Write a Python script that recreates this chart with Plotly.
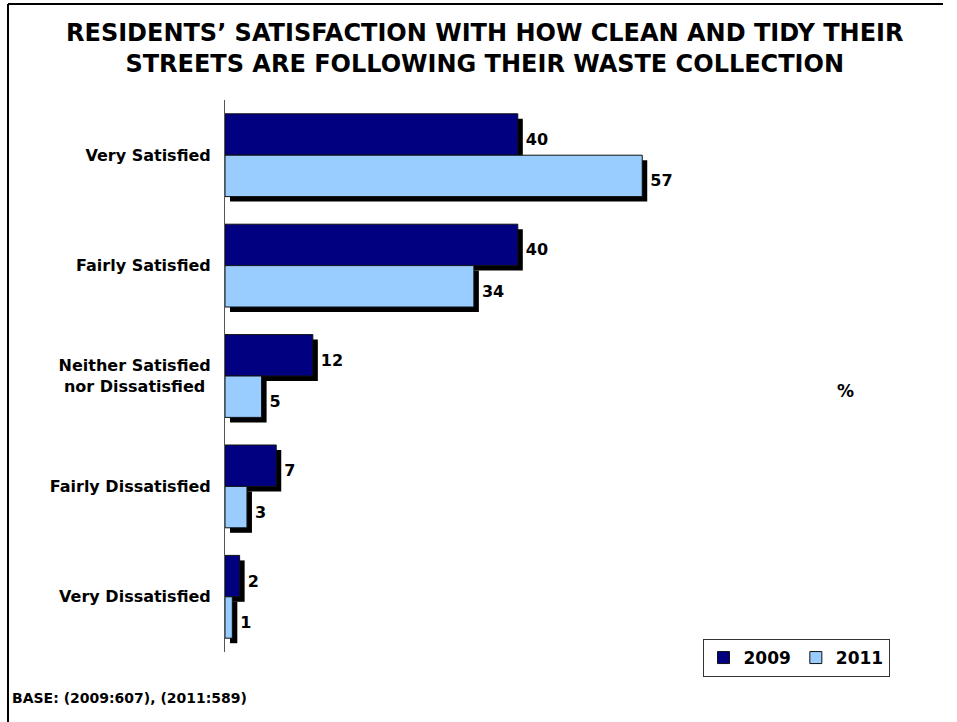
import plotly.graph_objects as go

categories = ["Very Satisfied", "Fairly Satisfied",
              "Neither Satisfied<br>nor Dissatisfied\u00a0",
              "Fairly Dissatisfied", "Very Dissatisfied"]
series_names = ["2009", "2011"]
values_2009 = [40, 40, 12, 7, 2]
values_2011 = [57, 34, 5, 3, 1]
colors = ["#000080", "#99CCFF"]

W, H = 957, 722
FONT = "DejaVu Sans"

def px_x(p):
    return p / W

def px_y(p):
    return 1 - p / H

left, right = 225, 225 + 80 * 7.32
top, bottom = 100, 652
sdx, sdy = 5, 5

fig = go.Figure()

# shadows (drawn first, underlying subplot)
for name, vals in zip(series_names, [values_2009, values_2011]):
    fig.add_trace(go.Bar(
        y=categories, x=vals, orientation="h", name=name,
        marker=dict(color="black", line=dict(width=0)),
        text=[str(v) for v in vals], textposition="outside",
        textfont=dict(family=FONT, size=16, color="black", weight="bold"),
        showlegend=False, hoverinfo="skip", xaxis="x", yaxis="y"))

# real bars
for name, vals, c in zip(series_names, [values_2009, values_2011], colors):
    fig.add_trace(go.Bar(
        y=categories, x=vals, orientation="h", name=name,
        marker=dict(color=c, line=dict(color="#111111", width=1)),
        xaxis="x2", yaxis="y2"))

common_y = dict(type="category", categoryorder="array", categoryarray=categories,
                autorange="reversed")

fig.update_layout(
    width=W, height=H,
    margin=dict(l=0, r=0, t=0, b=0),
    paper_bgcolor="white", plot_bgcolor="rgba(0,0,0,0)",
    barmode="group", bargap=0.25, bargroupgap=0,
    xaxis=dict(domain=[px_x(left + sdx), px_x(right + sdx)], range=[0, 80],
               visible=False, anchor="y"),
    yaxis=dict(domain=[px_y(bottom + sdy), px_y(top + sdy)], visible=False,
               anchor="x", **common_y),
    xaxis2=dict(domain=[px_x(left), px_x(right)], range=[0, 80], visible=False,
                anchor="y2"),
    yaxis2=dict(domain=[px_y(bottom), px_y(top)], anchor="x2",
                showline=True, linecolor="#555555", linewidth=1,
                showgrid=False, zeroline=False, ticks="",
                ticklabelstandoff=10,
                tickfont=dict(family=FONT, size=16, color="black", weight="bold"),
                **common_y),
    legend=dict(orientation="h", x=px_x(796), y=px_y(639), xanchor="center", yanchor="top",
                bordercolor="#333333", borderwidth=1, bgcolor="white",
                font=dict(family=FONT, size=17, color="black", weight="bold"),
                itemwidth=30, tracegroupgap=0),
    showlegend=True,
)

fig.add_annotation(
    text="RESIDENTS\u2019 SATISFACTION WITH HOW CLEAN AND TIDY THEIR<br>STREETS ARE FOLLOWING THEIR WASTE COLLECTION",
    xref="paper", yref="paper", x=px_x(484), y=px_y(48), xanchor="center", yanchor="middle",
    showarrow=False, align="center",
    font=dict(family=FONT, size=24, color="black", weight="bold"))

fig.add_annotation(text="%", xref="paper", yref="paper", x=px_x(845), y=px_y(391),
                   xanchor="center", yanchor="middle", showarrow=False,
                   font=dict(family=FONT, size=17, color="black", weight="bold"))

fig.add_annotation(text="BASE: (2009:607), (2011:589)", xref="paper", yref="paper",
                   x=px_x(10), y=px_y(698), xanchor="left", yanchor="middle",
                   showarrow=False,
                   font=dict(family=FONT, size=14, color="black", weight="bold"))

# frame lines (left and top)
fig.add_shape(type="line", xref="paper", yref="paper", x0=px_x(8), x1=px_x(8),
              y0=0, y1=px_y(4), line=dict(color="black", width=2))
fig.add_shape(type="line", xref="paper", yref="paper", x0=px_x(8), x1=px_x(943),
              y0=px_y(4), y1=px_y(4), line=dict(color="black", width=2))

fig.write_html("out.html", config={"displayModeBar": False},
               post_script="document.body.style.margin='0';document.body.style.overflow='hidden';")
